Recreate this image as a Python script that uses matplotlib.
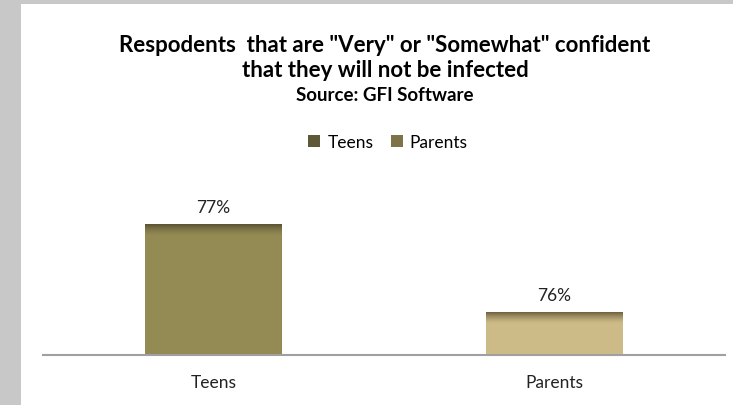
import numpy as np
import matplotlib
matplotlib.use("Agg")
import matplotlib.pyplot as plt
from matplotlib.colors import LinearSegmentedColormap
from matplotlib.patches import Patch

# data
kategori = ["Teens", "Parents"]
nilai = [77, 76]
label_nilai = ["77%", "76%"]
warna_bar = ["#948a54", "#cdbb87"]
warna_atas = ["#5a5232", "#6e6040"]
warna_legend = ["#5e5836", "#7f7148"]

plt.rcParams['font.family'] = ['Lato', 'DejaVu Sans']

fig = plt.figure(figsize=(7.33, 4.06), dpi=100)
fig.patch.set_facecolor("#c8c8c8")
# area putih grafik
bg = fig.add_axes([21/733, 0, 1 - 21/733, 1 - 5/406])
bg.set_facecolor("white")
bg.set_xticks([]); bg.set_yticks([])
for s in bg.spines.values():
    s.set_visible(False)

ax = fig.add_axes([43/733, 50/406, 682/733, 174/406])
ax.set_facecolor("none")
x = np.arange(len(kategori))
bars = ax.bar(x, nilai, width=0.4, color=warna_bar, zorder=2)

# gradasi gelap di atas bar
for b, ca, cb in zip(bars, warna_atas, warna_bar):
    cmap = LinearSegmentedColormap.from_list("g", [cb, ca])
    tinggi = 0.13
    grad = np.linspace(0, 1, 50).reshape(-1, 1) ** 1.5
    ax.imshow(grad, cmap=cmap, aspect="auto", origin="lower",
              extent=[b.get_x(), b.get_x() + b.get_width(),
                      b.get_height() - tinggi, b.get_height()], zorder=3)
ax.set_xlim(-0.5, 1.5)
ax.set_ylim(75.52, 77.5)

for b, t in zip(bars, label_nilai):
    ax.annotate(t, (b.get_x() + b.get_width() / 2, b.get_height()),
                xytext=(0, 7), textcoords="offset points",
                ha="center", va="bottom", fontsize=12.5, color="#222222")

for s in ["top", "right", "left"]:
    ax.spines[s].set_visible(False)
ax.spines["bottom"].set_color("#a0a0a0")
ax.spines["bottom"].set_linewidth(1.5)
ax.set_yticks([])
ax.set_xticks(x)
ax.set_xticklabels(kategori, fontsize=12.5, color="#222222")
ax.tick_params(axis="x", length=0, pad=14)

# judul
fig.text(385/733, 1 - 45/406, 'Respodents  that are "Very" or "Somewhat" confident',
         ha="center", va="center", fontsize=16, fontweight="bold")
fig.text(385/733, 1 - 71/406, 'that they will not be infected',
         ha="center", va="center", fontsize=16, fontweight="bold")
fig.text(385/733, 1 - 96/406, 'Source: GFI Software',
         ha="center", va="center", fontsize=13.5, fontweight="bold")

# legenda
handles = [Patch(facecolor=c, edgecolor="none") for c in warna_legend]
fig.legend(handles, kategori, loc="center", bbox_to_anchor=(388/733, 1 - 143/406),
           ncol=2, frameon=False, fontsize=12.5, handlelength=0.7, handleheight=0.7,
           handletextpad=0.4, columnspacing=1.0)

fig.savefig("out.png", dpi=100, facecolor=fig.get_facecolor())
